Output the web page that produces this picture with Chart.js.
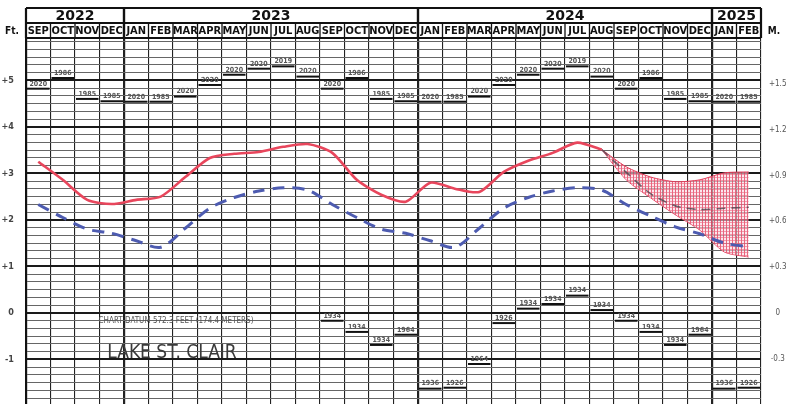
<!DOCTYPE html>
<html>
<head>
<meta charset="utf-8">
<script src="https://cdn.jsdelivr.net/npm/chart.js@4.4.1/dist/chart.umd.min.js"></script>
<style>
  html, body { margin: 0; padding: 0; background: #fff; }
  #wrap { width: 786px; height: 404px; }
</style>
</head>
<body>
<div id="wrap"><canvas id="levelChart" width="786" height="404"></canvas></div>
<script>
// months shown on the sheet, Sep 2022 .. Feb 2025
var months = ["SEP","OCT","NOV","DEC","JAN","FEB","MAR","APR","MAY","JUN","JUL","AUG",
              "SEP","OCT","NOV","DEC","JAN","FEB","MAR","APR","MAY","JUN","JUL","AUG",
              "SEP","OCT","NOV","DEC","JAN","FEB"];
var yearLabels = ["2022", "2023", "2024", "2025"];
var monthsPerYear = [4, 12, 12, 2];

// recorded levels, feet above chart datum
var recorded = [3.25, 2.86, 2.43, 2.34, 2.43, 2.50, 2.92, 3.33, 3.42, 3.46, 3.57, 3.63,
                3.44, 2.86, 2.54, 2.39, 2.80, 2.67, 2.60, 3.03, 3.27, 3.44, 3.66, 3.51,
                null, null, null, null, null, null];
// long term average
var average = [2.33, 2.05, 1.80, 1.71, 1.55, 1.41, 1.82, 2.25, 2.48, 2.62, 2.69, 2.64,
               2.33, 2.05, 1.80, 1.71, 1.55, 1.41, 1.82, 2.25, 2.48, 2.62, 2.69, 2.64,
               2.33, 2.08, 1.85, 1.70, 1.50, 1.42];
// forecast range
var fcHigh = [null, null, null, null, null, null, null, null, null, null, null, null,
              null, null, null, null, null, null, null, null, null, null, null, 3.51,
              3.14, 2.92, 2.82, 2.86, 3.01, 3.03];
var fcLow  = [null, null, null, null, null, null, null, null, null, null, null, null,
              null, null, null, null, null, null, null, null, null, null, null, 3.51,
              2.86, 2.47, 2.11, 1.78, 1.31, 1.20];
var fcMid  = [null, null, null, null, null, null, null, null, null, null, null, null,
              null, null, null, null, null, null, null, null, null, null, null, 3.51,
              3.02, 2.56, 2.30, 2.22, 2.25, 2.27];

// monthly records
var recHigh = [4.82, 5.05, 4.60, 4.55, 4.54, 4.54, 4.65, 4.90, 5.12, 5.25, 5.30, 5.08,
               4.82, 5.05, 4.60, 4.55, 4.54, 4.54, 4.65, 4.90, 5.12, 5.25, 5.30, 5.08,
               4.82, 5.05, 4.60, 4.55, 4.54, 4.54];
var recHighYear = ["2020","1986","1985","1985","2020","1985","2020","2020","2020","2020","2019","2020",
                   "2020","1986","1985","1985","2020","1985","2020","2020","2020","2020","2019","2020",
                   "2020","1986","1985","1985","2020","1985"];
var recLow = [null, null, null, null, null, null, null, null, null, null, null, null,
              -0.17, -0.41, -0.69, -0.47, -1.63, -1.61, -1.10, -0.22, 0.09, 0.19, 0.37, 0.06,
              -0.17, -0.41, -0.69, -0.47, -1.63, -1.61];
var recLowYear = ["","","","","","","","","","","","",
                  "1934","1934","1934","1964","1936","1926","1964","1926","1934","1934","1934","1934",
                  "1934","1934","1934","1964","1936","1926"];

var ftMin = -1.96, ftMax = 5.91;
var meterTicks = [-0.3, 0, 0.3, 0.6, 0.9, 1.2, 1.5];

var NARROW = '"Liberation Sans Narrow", "DejaVu Sans Condensed", Arial, sans-serif';

function hatchPattern(ctx) {
  var c = document.createElement('canvas');
  c.width = 3; c.height = 3;
  var g = c.getContext('2d');
  g.fillStyle = 'rgba(250,215,225,0.6)';
  g.fillRect(0, 0, 3, 3);
  g.fillStyle = 'rgba(226,60,90,0.75)';
  g.fillRect(0, 0, 1, 3);
  g.fillStyle = 'rgba(226,60,90,0.45)';
  g.fillRect(1, 0, 2, 1);
  return ctx.createPattern(c, 'repeat');
}

function signed(v, digits) {
  if (Math.abs(v) < 1e-9) return '0';
  var s = digits ? Math.abs(v).toFixed(digits) : String(Math.round(Math.abs(v)));
  return (v > 0 ? '+' : '-') + s;
}

function noPad(s) { s.paddingTop = 0; s.paddingBottom = 0; }

// header boxes, record bars and the sheet captions
var sheetPlugin = {
  id: 'sheet',
  beforeDatasetsDraw: function(chart) {
    var ctx = chart.ctx, x = chart.scales.x, y = chart.scales.y;
    var half = (x.getPixelForValue(1) - x.getPixelForValue(0)) / 2;
    ctx.save();
    // captions
    ctx.fillStyle = '#555';
    ctx.textAlign = 'center';
    ctx.textBaseline = 'middle';
    ctx.font = '8px ' + NARROW;
    ctx.fillText('CHART DATUM 572.3 FEET (174.4 METERS)', 176, y.getPixelForValue(-0.18));
    ctx.fillStyle = '#3a3a3a';
    ctx.font = '19px ' + NARROW;
    ctx.fillText('LAKE ST. CLAIR', 172, y.getPixelForValue(-0.86));

    // record highs / lows
    ctx.strokeStyle = '#111';
    ctx.lineWidth = 2;
    ctx.font = 'bold 7px ' + NARROW;
    ctx.fillStyle = '#555';
    for (var i = 0; i < months.length; i++) {
      var cx = x.getPixelForValue(i);
      [[recHigh[i], recHighYear[i]], [recLow[i], recLowYear[i]]].forEach(function(r) {
        if (r[0] === null) return;
        var py = y.getPixelForValue(r[0]);
        ctx.beginPath();
        ctx.moveTo(cx - half + 1, py);
        ctx.lineTo(cx + half - 1, py);
        ctx.stroke();
        ctx.fillText(r[1], cx, py - 5);
      });
    }
    ctx.restore();
  },
  afterDraw: function(chart) {
    var ctx = chart.ctx, x = chart.scales.x, a = chart.chartArea;
    var half = (x.getPixelForValue(1) - x.getPixelForValue(0)) / 2;
    var top = 8, mid = 23, bot = a.top;
    ctx.save();
    ctx.strokeStyle = '#111';
    ctx.lineWidth = 2;
    ctx.beginPath();
    ctx.moveTo(a.left, top); ctx.lineTo(a.right, top);
    ctx.moveTo(a.left, mid); ctx.lineTo(a.right, mid);
    ctx.moveTo(a.left, bot); ctx.lineTo(a.right, bot);
    ctx.stroke();
    // month dividers
    ctx.lineWidth = 1.3;
    ctx.beginPath();
    for (var i = 0; i <= months.length; i++) {
      var px = x.getPixelForValue(i) - half;
      ctx.moveTo(px, mid); ctx.lineTo(px, bot);
    }
    ctx.stroke();
    // year dividers and labels
    ctx.lineWidth = 2.2;
    ctx.fillStyle = '#111';
    ctx.textAlign = 'center';
    ctx.textBaseline = 'middle';
    ctx.font = 'bold 14px "DejaVu Sans", sans-serif';
    var start = 0;
    for (var k = 0; k < yearLabels.length; k++) {
      var l = x.getPixelForValue(start) - half;
      var r = x.getPixelForValue(start + monthsPerYear[k] - 1) + half;
      ctx.beginPath();
      ctx.moveTo(l, top); ctx.lineTo(l, bot);
      ctx.moveTo(r, top); ctx.lineTo(r, bot);
      ctx.stroke();
      ctx.fillText(yearLabels[k], (l + r) / 2, 16);
      start += monthsPerYear[k];
    }
    ctx.font = 'bold 11px ' + NARROW;
    for (var j = 0; j < months.length; j++) {
      ctx.fillText(months[j], x.getPixelForValue(j), 31);
    }
    ctx.font = 'bold 10px ' + NARROW;
    ctx.fillText('Ft.', 12, 31);
    ctx.fillText('M.', 774, 31);
    ctx.restore();
  }
};

var ctxL = document.getElementById('levelChart').getContext('2d');
var levelChart = new Chart(ctxL, {
  type: 'line',
  data: {
    labels: months,
    datasets: [{
      label: 'Recorded',
      data: recorded,
      borderColor: '#e8465c',
      borderWidth: 2.6,
      pointRadius: 0,
      tension: 0.25,
      fill: false
    }, {
      label: 'Long term average',
      data: average,
      borderColor: '#4d5bb0',
      borderWidth: 3,
      borderDash: [12, 8],
      pointRadius: 0,
      tension: 0.3,
      fill: false
    }, {
      label: 'Most probable',
      data: fcMid,
      borderColor: 'rgba(80,70,80,0.8)',
      borderWidth: 1.6,
      borderDash: [9, 6],
      pointRadius: 0,
      tension: 0.25,
      fill: false
    }, {
      label: 'Forecast high',
      data: fcHigh,
      borderColor: '#e23c5a',
      borderWidth: 1,
      pointRadius: 0,
      tension: 0.25,
      backgroundColor: hatchPattern(ctxL),
      fill: '+1'
    }, {
      label: 'Forecast low',
      data: fcLow,
      borderColor: '#e23c5a',
      borderWidth: 1,
      pointRadius: 0,
      tension: 0.25,
      fill: false
    }]
  },
  options: {
    responsive: false,
    devicePixelRatio: 1,
    animation: false,
    layout: { padding: { top: 38, left: 0, right: 0, bottom: 0 } },
    plugins: { legend: { display: false }, tooltip: { enabled: false } },
    scales: {
      x: {
        offset: true,
        grid: {
          offset: true,
          drawTicks: false,
          color: '#222',
          lineWidth: function(c) { return [0, 4, 16, 28, 30].indexOf(c.index) >= 0 ? 2.2 : 1.1; }
        },
        border: { display: false },
        ticks: { display: false },
        afterFit: function(s) { s.height = 0; }
      },
      y: {
        position: 'left',
        min: ftMin,
        max: ftMax,
        afterBuildTicks: function(s) {
          var t = [];
          for (var k = Math.ceil(ftMin * 6); k <= Math.floor(ftMax * 6); k++) t.push({ value: k / 6 });
          s.ticks = t;
        },
        grid: {
          drawTicks: false,
          color: function(c) { return Math.round(c.tick.value * 6) % 6 === 0 ? '#1a1a1a' : '#666'; },
          lineWidth: function(c) { return Math.round(c.tick.value * 6) % 6 === 0 ? 2 : 1; }
        },
        border: { display: true, color: '#111', width: 2 },
        ticks: {
          autoSkip: false,
          crossAlign: 'near',
          padding: 12,
          color: '#444',
          font: { family: NARROW, size: 9, weight: 'bold' },
          callback: function(v) {
            var r = Math.round(v * 6);
            return r % 6 === 0 ? signed(r / 6) : '';
          }
        },
        afterFit: function(s) { s.width = 26; noPad(s); }
      },
      m: {
        position: 'right',
        min: ftMin * 0.3048,
        max: ftMax * 0.3048,
        afterBuildTicks: function(s) {
          s.ticks = meterTicks.map(function(v) { return { value: v }; });
        },
        grid: { display: false },
        border: { display: false },
        ticks: {
          autoSkip: false,
          crossAlign: 'center',
          padding: 0,
          color: '#555',
          font: { family: NARROW, size: 8 },
          callback: function(v) { return signed(v, Math.abs(v) < 1e-9 ? 0 : 1); }
        },
        afterFit: function(s) { s.width = 25; noPad(s); }
      }
    }
  },
  plugins: [sheetPlugin]
});
</script>
</body>
</html>
